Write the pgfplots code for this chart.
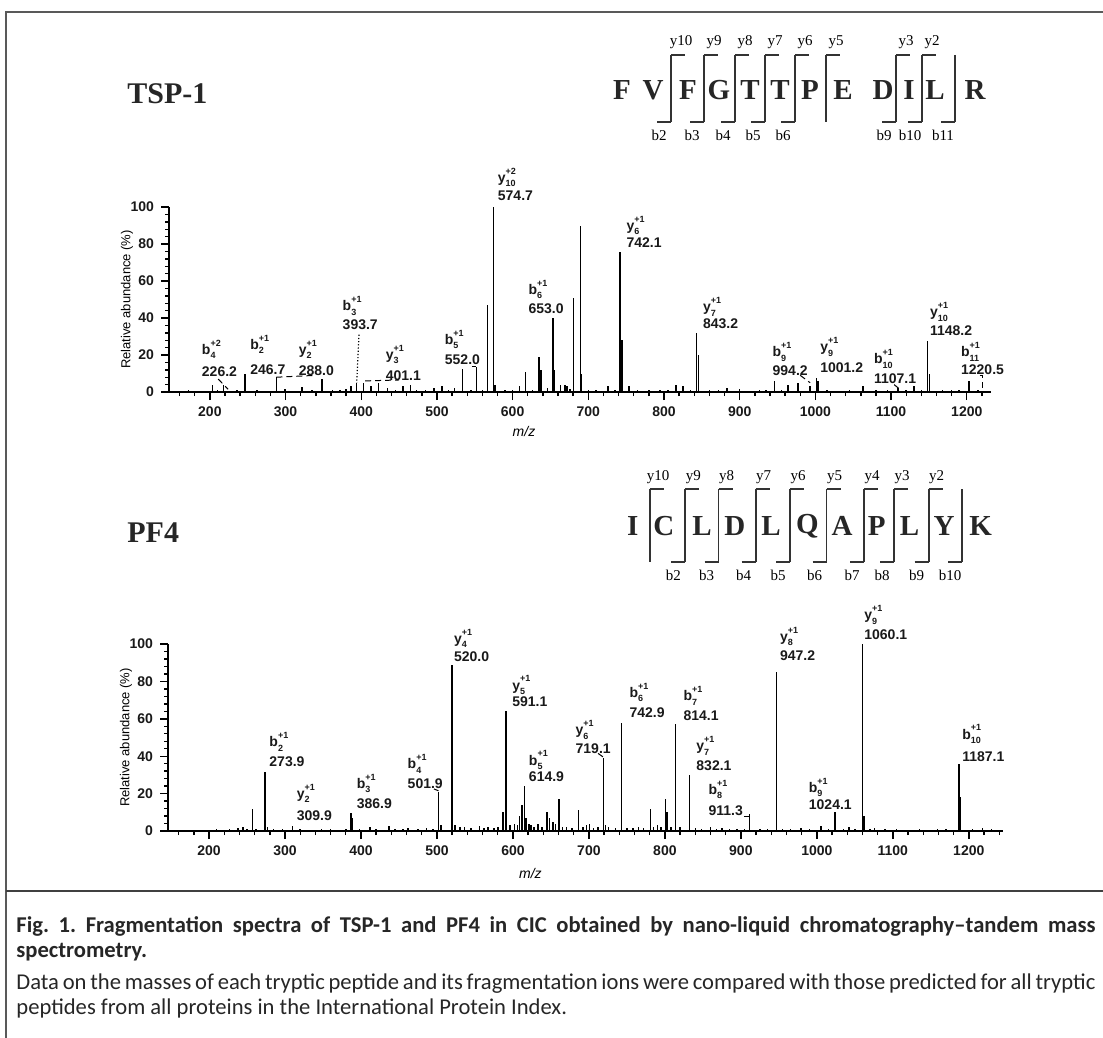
\documentclass[border=0pt]{standalone}
\usepackage{fontspec}
\setmainfont{Liberation Sans}
\newfontfamily\seqfont{Liberation Serif}
\newfontfamily\capfont{Carlito}
\usepackage{pgfplots}
\pgfplotsset{compat=1.18}

\newcommand{\ion}[3]{#1\makebox[0pt][l]{\raisebox{1.1ex}{\fontsize{4.5}{5}\selectfont#3}}\raisebox{-0.6ex}{\fontsize{4.5}{5}\selectfont#2}}
\newcommand{\pk}[7]{\node[pklab] at (axis cs:#4,#5) {\ion{#1}{#2}{#3}};\node[pklab] at (axis cs:#4,#6) {#7};}
\tikzset{pklab/.style={anchor=west, inner sep=0pt, font=\bfseries\fontsize{7}{8}\selectfont, text=black!90},
  seqL/.style={inner sep=0pt, font=\seqfont\bfseries\fontsize{14.5}{15}\selectfont, text=black!85},
  seqS/.style={inner sep=0pt, font=\seqfont\fontsize{7.5}{8}\selectfont},
  brk/.style={line width=0.9pt, black!80}}

\pgfplotsset{spec/.style={scale only axis, axis lines=left,
  axis line style={-, line width=1pt},
  ymin=0, ymax=100, ytick={0,20,...,100}, minor y tick num=4,
  xtick={200,300,...,1200}, minor xtick={160,180,...,1240},
  tick align=outside, major tick length=4pt, minor tick length=2pt,
  tick style={black, line width=0.7pt},
  tick label style={font=\bfseries\fontsize{7}{8}\selectfont, text=black!90},
  /pgf/number format/assume math mode=true,
  /pgf/number format/1000 sep={},
  clip=false}}

\begin{document}
\begin{tikzpicture}
\path[use as bounding box] (0pt,0pt) rectangle (551.5pt,-519pt);

% ---------------- TSP-1 spectrum ----------------
\begin{axis}[spec, at={(84.5pt,-196pt)}, anchor=south west,
  width=411pt, height=92.5pt, xmin=146, xmax=1232]
\addplot[ycomb, black, line width=0.75pt, mark=none] coordinates {
(160,0.8) (172,1) (185,0.6) (203.5,4) (210,1) (218,4) (236,1) (246.7,10) (262,1) (275,0.8)
(288.0,8) (299,1.5) (310,0.8) (321.5,2.5) (335,1) (348,7) (362,1) (372,1.2) (380,1.5)
(386.4,3) (393.7,5) (403,5) (413,3) (423,5) (435,2) (445,1) (455,3) (465,4) (473,1) (485,1)
(496,2) (507,3) (515,1) (523,2) (534,12.6) (545,1) (552.0,13.5) (560,1) (566.6,47)
(574.7,100) (577,4) (590,1) (600,1) (609,3) (617,11) (626,1) (635,19) (637.5,12) (646,2)
(653.0,40) (655.5,12) (663,4) (669,4) (672,3) (676,1.5) (680.6,50.6) (689.5,90) (691,10)
(700,1) (710,1) (726,3) (735,1) (742.1,75.5) (744.5,28) (753.6,3) (765,1) (780,1) (795,1)
(805,1) (816,4) (825,3) (835,1.2) (843.2,32) (845.5,20) (860,1) (872,1) (883,2) (900,1.5)
(912,0.8) (926,1.2) (935,1) (946,6) (955,1) (963.6,4) (977,5) (993,3) (1001.2,7.5)
(1003.5,6) (1015,1) (1030,0.8) (1045,1) (1062.7,3) (1080,1) (1095,1) (1109,2) (1120,1)
(1130,3) (1140,1) (1148.2,27.5) (1150.5,10) (1168,1) (1180,1) (1190,1) (1203,6) (1215,1)
};
\node[rotate=90, font=\fontsize{6.5}{7}\selectfont] at (rel axis cs:-0.051,0.5) {Relative abundance (\%)};
\node[font=\fontsize{7}{8}\selectfont\itshape] at (axis cs:615,-21.5) {m/z};
\pk{b}{4}{+2}{189}{23}{11}{226.2}
\pk{b}{2}{+1}{253}{25.8}{12.3}{246.7}
\pk{y}{2}{+1}{317}{23}{11.4}{288.0}
\pk{b}{3}{+1}{375}{46.5}{36.2}{393.7}
\pk{y}{3}{+1}{432}{20.4}{9}{401.1}
\pk{b}{5}{+1}{510}{28.5}{17.7}{552.0}
\pk{y}{10}{+2}{580}{115.9}{106}{574.7}
\pk{b}{6}{+1}{620.5}{55.5}{45.2}{653.0}
\pk{y}{6}{+1}{750}{90}{81}{742.1}
\pk{y}{7}{+1}{851}{46}{37}{843.2}
\pk{b}{9}{+1}{943}{21.6}{11.7}{994.2}
\pk{y}{9}{+1}{1006}{24.3}{13.2}{1001.2}
\pk{b}{10}{+1}{1077}{18}{7.2}{1107.1}
\pk{y}{10}{+1}{1151}{43.2}{33.3}{1148.2}
\pk{b}{11}{+1}{1192}{21.6}{12}{1220.5}
\draw[densely dashed, line width=0.5pt] (axis cs:211,7) -- (axis cs:224,1.5);
\draw[densely dashed, line width=0.5pt] (axis cs:288,8) -- (axis cs:340,9);
\draw[densely dotted, line width=0.6pt] (axis cs:397,31) -- (axis cs:394,5);
\draw[densely dashed, line width=0.5pt] (axis cs:405,6) -- (axis cs:450,6.5);
\draw[densely dashed, line width=0.5pt] (axis cs:546,14) -- (axis cs:552,14);
\draw[densely dashed, line width=0.5pt] (axis cs:980,9) -- (axis cs:993,5);
\draw[densely dashed, line width=0.5pt] (axis cs:1104,4) -- (axis cs:1110,2);
\draw[densely dashed, line width=0.5pt] (axis cs:1217,9) -- (axis cs:1221,9) -- (axis cs:1221,1);
\end{axis}

% ---------------- PF4 spectrum ----------------
\begin{axis}[spec, at={(84pt,-415.5pt)}, anchor=south west,
  width=417.5pt, height=93.5pt, xmin=146, xmax=1245]
\addplot[ycomb, black, line width=0.75pt, mark=none] coordinates {
(160,0.5) (180,0.8) (195,0.6) (209.7,1) (227,1) (238,1.5) (245,2) (250,1) (257.3,12) (262,1)
(273.9,31.3) (277,2) (285,1) (297,1) (309.9,2.5) (320,1) (335,0.8) (348,1) (359.6,1.2)
(370,0.8) (380,1) (386.9,9.6) (389,7) (398,1) (411.6,2) (420,1) (436.8,2.5) (445,1) (455,1)
(462,1.5) (475,1) (486,1.5) (495,1) (501.9,21) (505,3) (520.0,89) (523.6,3) (530,2) (536,2)
(545,1.5) (556,2.5) (562,1.5) (567,2) (575,1.5) (580,2) (586.7,10) (591.1,64) (596,3)
(602,4) (606,3) (608.7,8) (611.8,14) (614.9,24) (617.5,7) (621,4) (624,3) (628,2) (633,4)
(638,2) (645,10) (648.4,7) (652.8,5) (656,4) (660.3,17.3) (665,2) (670.5,2) (678,1.5)
(686,11) (692,2) (697,3) (701,4) (706,1.5) (712,2) (719.1,39) (721.5,3) (726,2) (735,1.5)
(742.9,58) (750,1.5) (758,1.5) (765,2) (772,1.5) (781,12) (785,2) (790,3) (795,2)
(800.5,17) (802.5,10) (808,2) (814.1,57) (820,2) (832.1,30) (840,1.5) (848,1) (860,2)
(868,1) (875,1.5) (885,1) (895,1) (905,1) (911.3,9) (925,1) (935,1) (947.2,85) (955,1)
(965,1) (979,1.5) (990,1) (1005.4,2.5) (1015,1) (1024.1,10) (1035,1) (1042,2) (1050,1)
(1060.1,100) (1062,8) (1070,1) (1076,1.5) (1090,1) (1105,1) (1120,0.8) (1135,1) (1150,0.8)
(1159,1) (1170,1) (1187.1,36) (1189,18) (1205,1) (1218,1.5) (1230,1)
};
\node[rotate=90, font=\fontsize{6.5}{7}\selectfont] at (rel axis cs:-0.0503,0.5) {Relative abundance (\%)};
\node[font=\fontsize{7}{8}\selectfont\itshape] at (axis cs:623,-22.5) {m/z};
\pk{b}{2}{+1}{279}{47.7}{37}{273.9}
\pk{y}{2}{+1}{315}{20}{8.4}{309.9}
\pk{b}{3}{+1}{394}{25.4}{14.6}{386.9}
\pk{b}{4}{+1}{461}{36}{25.4}{501.9}
\pk{y}{4}{+1}{522}{103}{93}{520.0}
\pk{y}{5}{+1}{598.6}{78}{69}{591.1}
\pk{b}{5}{+1}{620.6}{37.9}{29}{614.9}
\pk{y}{6}{+1}{682}{54}{44}{719.1}
\pk{b}{6}{+1}{753}{74}{63.4}{742.9}
\pk{b}{7}{+1}{824}{72.3}{61.6}{814.1}
\pk{y}{7}{+1}{841}{45.5}{34.8}{832.1}
\pk{b}{8}{+1}{857}{22.3}{10.7}{911.3}
\pk{y}{8}{+1}{951}{104}{94}{947.2}
\pk{b}{9}{+1}{989}{23.2}{14.3}{1024.1}
\pk{y}{9}{+1}{1062}{115.5}{104.8}{1060.1}
\pk{b}{10}{+1}{1191}{51.8}{40}{1187.1}
\draw[densely dashed, line width=0.5pt] (axis cs:904,7.5) -- (axis cs:913,7.5);
\draw[densely dashed, line width=0.5pt] (axis cs:712,41.5) -- (axis cs:719,39.5);
\draw[densely dashed, line width=0.5pt] (axis cs:496,22.5) -- (axis cs:502,21.5);
\end{axis}

% ---------------- frame, titles, sequences, caption ----------------
\begin{scope}[x=0.5pt, y=-0.5pt]
\draw[line width=1pt, black!65] (6,1038) -- (6,12) -- (1103,12);
\draw[line width=1.2pt, black!75] (6,891) -- (1103,891);

\node[anchor=west, inner sep=0pt, font=\seqfont\bfseries\fontsize{15}{16}\selectfont, text=black!85] at (127,94) {TSP-1};
\node[anchor=west, inner sep=0pt, font=\seqfont\bfseries\fontsize{15}{16}\selectfont, text=black!85] at (127,533) {PF4};

% TSP-1 sequence
\foreach \l/\x in {F/622, V/653, F/688, G/719, T/750, T/780, P/810, E/843, D/883, I/909, L/935, R/975}
  \node[seqL] at (\x,90) {\l};
\foreach \x in {671,704,735,765,795,826,896,922,955}
  \draw[brk] (\x,55) -- (\x,122);
\foreach \x/\t in {671/y10,704/y9,735/y8,765/y7,795/y6,826/y5,896/y3,922/y2}
  {\draw[brk] (\x,55) -- (\x+14,55); \node[seqS] at (\x+10,42) {\t};}
\foreach \x/\t in {671/b2,704/b3,735/b4,765/b5,795/b6,896/b9,922/b10,955/b11}
  {\draw[brk] (\x-14,122) -- (\x,122); \node[seqS] at (\x-12,135) {\t};}

% PF4 sequence
\foreach \l/\x in {I/632.7, C/663.8, L/702, D/734.8, L/771, Q/807.5, A/842, P/876.7, L/909.6, Y/944, K/980.6}
  \node[seqL] at (\x,526) {\l};
\foreach \x in {650,685.3,718.5,755.6,790,826.5,864,894,928.6,962.2}
  \draw[brk] (\x,489) -- (\x,562);
\foreach \x/\t in {650/y10,685.3/y9,718.5/y8,755.6/y7,790/y6,826.5/y5,864/y4,894/y3,928.6/y2}
  {\draw[brk] (\x,489) -- (\x+14,489); \node[seqS] at (\x+8,477) {\t};}
\foreach \x/\t in {685.3/b2,718.5/b3,755.6/b4,790/b5,826.5/b6,864/b7,894/b8,928.6/b9,962.2/b10}
  {\draw[brk] (\x-14,562) -- (\x,562); \node[seqS] at (\x-12,575) {\t};}

% caption
\node[anchor=base west, inner sep=0pt, text width=539.5pt, align=justify,
  font=\capfont\fontsize{11.3}{12.5}\selectfont, text=black!85] at (16,932)
  {\frenchspacing\textbf{Fig. 1. Fragmentation spectra of TSP-1 and PF4 in CIC obtained by nano-liquid chromatography–tandem mass\linebreak spectrometry.}\par\vspace{3.5pt}
  Data on the masses of each tryptic peptide and its fragmentation ions were compared with those predicted for all tryptic\linebreak peptides from all proteins in the International Protein Index.};
\end{scope}
\end{tikzpicture}
\end{document}
